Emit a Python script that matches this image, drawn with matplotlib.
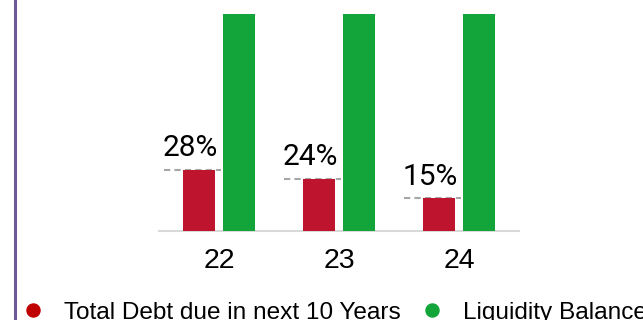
import matplotlib.pyplot as plt
from matplotlib.lines import Line2D
import numpy as np

years = ["22", "23", "24"]
debt_pct = [28, 24, 15]
liquidity = [100, 100, 100]
debt_labels = ["28%", "24%", "15%"]
legend_labels = ["Total Debt due in next 10 Years", "Liquidity Balance"]

RED = "#BE142D"
GREEN = "#14A53A"

W, H, DPI = 643, 320, 100
fig = plt.figure(figsize=(W / DPI, H / DPI), dpi=DPI)
ax = fig.add_axes([159 / W, 1 - 231 / H, 360 / W, 231 / H])

x = np.arange(len(years))
off, bw = 0.165, 0.27
ax.bar(x - off, debt_pct, bw, color=RED, zorder=3)
ax.bar(x + off, liquidity, bw, color=GREEN, zorder=3)

# dashed marker line + label above each debt bar
for xi, v, lab in zip(x, debt_pct, debt_labels):
    x0 = xi - off - bw / 2 - 0.158
    ax.hlines(v, x0, xi + 0.02, colors="#A6A6A6", linestyles=(0, (3, 2)),
              lw=1.5, zorder=2)
    ax.text(x0 - 0.01, v + 6.4, lab, ha="left", va="baseline",
            fontsize=21.5, family=["Roboto", "DejaVu Sans"], color="black")

ax.set_xlim(-0.5, 2.5)
ax.set_ylim(0, 231 / 2.17)
ax.set_xticks(x)
ax.set_xticklabels(years, fontsize=20.5, family="Liberation Sans")
ax.tick_params(axis="x", length=0, pad=12)
ax.set_yticks([])
for s in ("left", "right", "top"):
    ax.spines[s].set_visible(False)
ax.spines["bottom"].set_color("#D9D9D9")
ax.spines["bottom"].set_linewidth(1.5)

# purple rule on the left edge
fig.add_artist(Line2D([14.5 / W, 14.5 / W], [0, 1], color="#6B5A97", lw=2.2))

handles = [
    Line2D([], [], ls="none", marker="o", ms=9.4, color="#C00000"),
    Line2D([], [], ls="none", marker="o", ms=9.4, color=GREEN),
]
fig.legend(handles, legend_labels, loc="center left", ncol=2,
           bbox_to_anchor=(21 / W, 1 - 312.5 / H), frameon=False,
           borderpad=0, borderaxespad=0, handlelength=1.0,
           handletextpad=0.75, columnspacing=0.8,
           prop={"family": "Liberation Sans", "size": 17.6})

fig.savefig("out.png", dpi=DPI)
